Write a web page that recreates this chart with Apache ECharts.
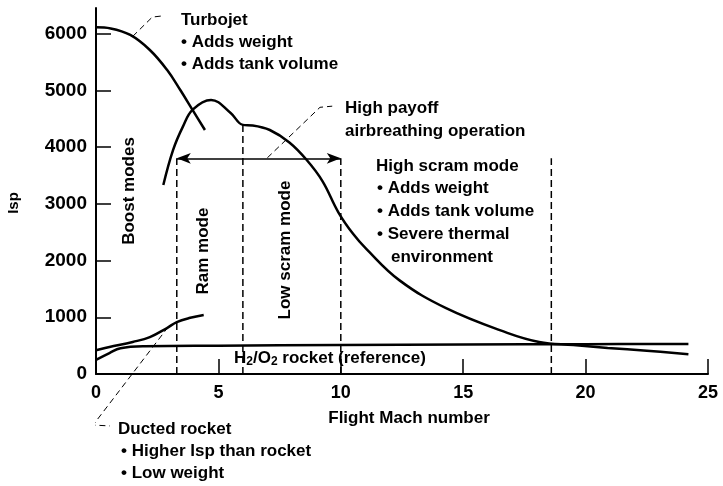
<!DOCTYPE html>
<html>
<head>
<meta charset="utf-8">
<script src="https://cdn.jsdelivr.net/npm/echarts@6/dist/echarts.min.js"></script>
<style>
html, body { margin: 0; padding: 0; background: #fff; }
#chart_isp { width: 723px; height: 486px; }
</style>
</head>
<body>
<div id="chart_isp"></div>
<script>
/****************  data  ****************/
var xTicks = [0, 5, 10, 15, 20, 25];
var yTicks = [0, 1000, 2000, 3000, 4000, 5000, 6000];

// turbojet
var turbojetMach = [0, 0.6, 1.4, 2.2, 2.9, 3.45, 3.95, 4.45];
var turbojetIsp  = [6110, 6090, 5975, 5710, 5360, 5000, 4650, 4300];

// ramjet / scramjet (airbreathing) curve
var airMach = [2.75, 3.15, 3.55, 3.95, 4.7, 5.5, 6.0, 6.4, 7.1, 7.9, 8.6, 9.25, 9.9, 10.5, 11.05, 12.4, 14.3, 16.8, 18.1, 19.5, 20.9, 22.5, 24.2];
var airIsp  = [3330, 3950, 4360, 4660, 4830, 4600, 4390, 4380, 4300, 4080, 3775, 3400, 2850, 2470, 2200, 1650, 1160, 725, 565, 510, 460, 410, 350];

// ducted rocket
var ductedMach = [0, 0.55, 1.5, 2.2, 2.9, 3.3, 3.85, 4.4];
var ductedIsp  = [420, 475, 565, 650, 810, 915, 990, 1040];

// H2/O2 rocket (reference)
var rocketMach = [0, 0.55, 1.0, 2.0, 5.0, 10.0, 15.0, 20.0, 24.2];
var rocketIsp  = [250, 370, 455, 490, 500, 510, 520, 525, 530];

// mode boundaries (dashed verticals) and the airbreathing range arrow
var boundaryMach = [3.3, 6.0, 10.0, 18.6];
var boundaryTop  = [3800, 4390, 3800, 3800];
var arrowMach = [3.3, 10.0];
var arrowIsp = 3800;

// leader lines from notes to curves
var turbojetLeader = [[1.5, 5950], [2.3, 6290], [2.7, 6310]];
var payoffLeader   = [[7.0, 3810], [9.15, 4700], [9.65, 4720]];
var ductedLeader   = [[2.95, 830], [-0.12, -900], [0.57, -915]];

function zip(a, b) {
    return a.map(function (v, i) { return [v, b[i]]; });
}

var FONT = '"Liberation Sans", Arial, Helvetica, sans-serif';

function curve(name, xs, ys) {
    return {
        name: name,
        type: 'line',
        data: zip(xs, ys),
        smooth: 0.4,
        symbol: 'none',
        lineStyle: { color: '#000', width: 2.5 },
        silent: true,
        z: 5
    };
}

function leader(name, pts) {
    return {
        name: name,
        type: 'line',
        data: pts,
        symbol: 'none',
        clip: false,
        lineStyle: { color: '#000', width: 1, type: [6, 4] },
        silent: true
    };
}

function note(x, y, text, extra) {
    var el = {
        type: 'text',
        x: x,
        y: y,
        style: {
            text: text,
            fill: '#000',
            font: 'bold 17px ' + FONT,
            verticalAlign: 'middle'
        },
        z: 10
    };
    if (extra) {
        for (var k in extra) el[k] = extra[k];
    }
    return el;
}

function sideways(x, y, text, size) {
    return note(x, y, text, {
        rotation: Math.PI / 2,
        style: { text: text, fill: '#000', font: 'bold ' + (size || 17) + 'px ' + FONT, align: 'center', verticalAlign: 'middle' }
    });
}

var series = [
    curve('Turbojet', turbojetMach, turbojetIsp),
    curve('Airbreathing', airMach, airIsp),
    curve('Ducted rocket', ductedMach, ductedIsp),
    curve('H2/O2 rocket', rocketMach, rocketIsp)
];

boundaryMach.forEach(function (m, i) {
    series.push({
        name: 'boundary' + i,
        type: 'line',
        data: [[m, 0], [m, boundaryTop[i]]],
        symbol: 'none',
        lineStyle: { color: '#000', width: 1.5, type: [7, 4] },
        silent: true
    });
});

series.push({
    name: 'range',
    type: 'line',
    data: [],
    silent: true,
    markLine: {
        silent: true,
        animation: false,
        symbol: ['arrow', 'arrow'],
        symbolSize: [8, 14],
        label: { show: false },
        lineStyle: { color: '#000', width: 1.5, type: 'solid' },
        data: [[{ coord: [arrowMach[0], arrowIsp] }, { coord: [arrowMach[1], arrowIsp] }]]
    }
});

series.push(leader('turbojetLeader', turbojetLeader));
series.push(leader('payoffLeader', payoffLeader));
series.push(leader('ductedLeader', ductedLeader));

var chart_isp = echarts.init(document.getElementById('chart_isp'));
var option_isp = {
    animation: false,
    backgroundColor: '#fff',
    grid: { left: 96, right: 15, top: 8, bottom: 112, containLabel: false, outerBoundsMode: 'none' },
    xAxis: {
        type: 'value',
        min: 0,
        max: 25,
        interval: 5,
        name: 'Flight Mach number',
        nameLocation: 'middle',
        nameGap: 36,
        nameTextStyle: { color: '#000', fontSize: 17, fontWeight: 'bold', fontFamily: FONT, padding: [0, 0, 0, 14] },
        axisLine: { lineStyle: { color: '#000', width: 2 } },
        axisTick: { inside: true, length: 15, lineStyle: { color: '#000', width: 1.5 } },
        axisLabel: { color: '#000', fontSize: 18, fontWeight: 'bold', fontFamily: FONT, margin: 10, customValues: xTicks },
        splitLine: { show: false }
    },
    yAxis: {
        type: 'value',
        min: 0,
        max: 6450,
        interval: 1000,
        axisLine: { show: true, lineStyle: { color: '#000', width: 2 } },
        axisTick: { show: true, inside: true, length: 15, lineStyle: { color: '#000', width: 1.5 }, customValues: yTicks },
        axisLabel: {
            color: '#000', fontSize: 19, fontWeight: 'bold', fontFamily: FONT, margin: 9, customValues: yTicks,
            formatter: function (v) { return String(v); }
        },
        splitLine: { show: false }
    },
    series: series,
    graphic: [
        sideways(14, 203, 'Isp', 15),
        note(181, 20, 'Turbojet'),
        note(181, 42, '\u2022 Adds weight'),
        note(181, 64, '\u2022 Adds tank volume'),
        note(345, 108, 'High payoff'),
        note(345, 131, 'airbreathing operation'),
        note(376, 166, 'High scram mode'),
        note(377, 188, '\u2022 Adds weight'),
        note(377, 211, '\u2022 Adds tank volume'),
        note(377, 234, '\u2022 Severe thermal'),
        note(391, 257, 'environment'),
        note(118, 429, 'Ducted rocket'),
        note(121, 451, '\u2022 Higher Isp than rocket'),
        note(121, 473, '\u2022 Low weight'),
        sideways(129, 191, 'Boost modes'),
        sideways(203, 251, 'Ram mode'),
        sideways(285, 250, 'Low scram mode'),
        {
            type: 'text',
            x: 234,
            y: 358,
            z: 10,
            style: {
                text: 'H{sub|2}/O{sub|2} rocket (reference)',
                fill: '#000',
                font: 'bold 17px ' + FONT,
                verticalAlign: 'middle',
                rich: {
                    sub: { font: 'bold 12px ' + FONT, fill: '#000', padding: [8, 0, 0, 0] }
                }
            }
        }
    ]
};
chart_isp.setOption(option_isp);
</script>
</body>
</html>
